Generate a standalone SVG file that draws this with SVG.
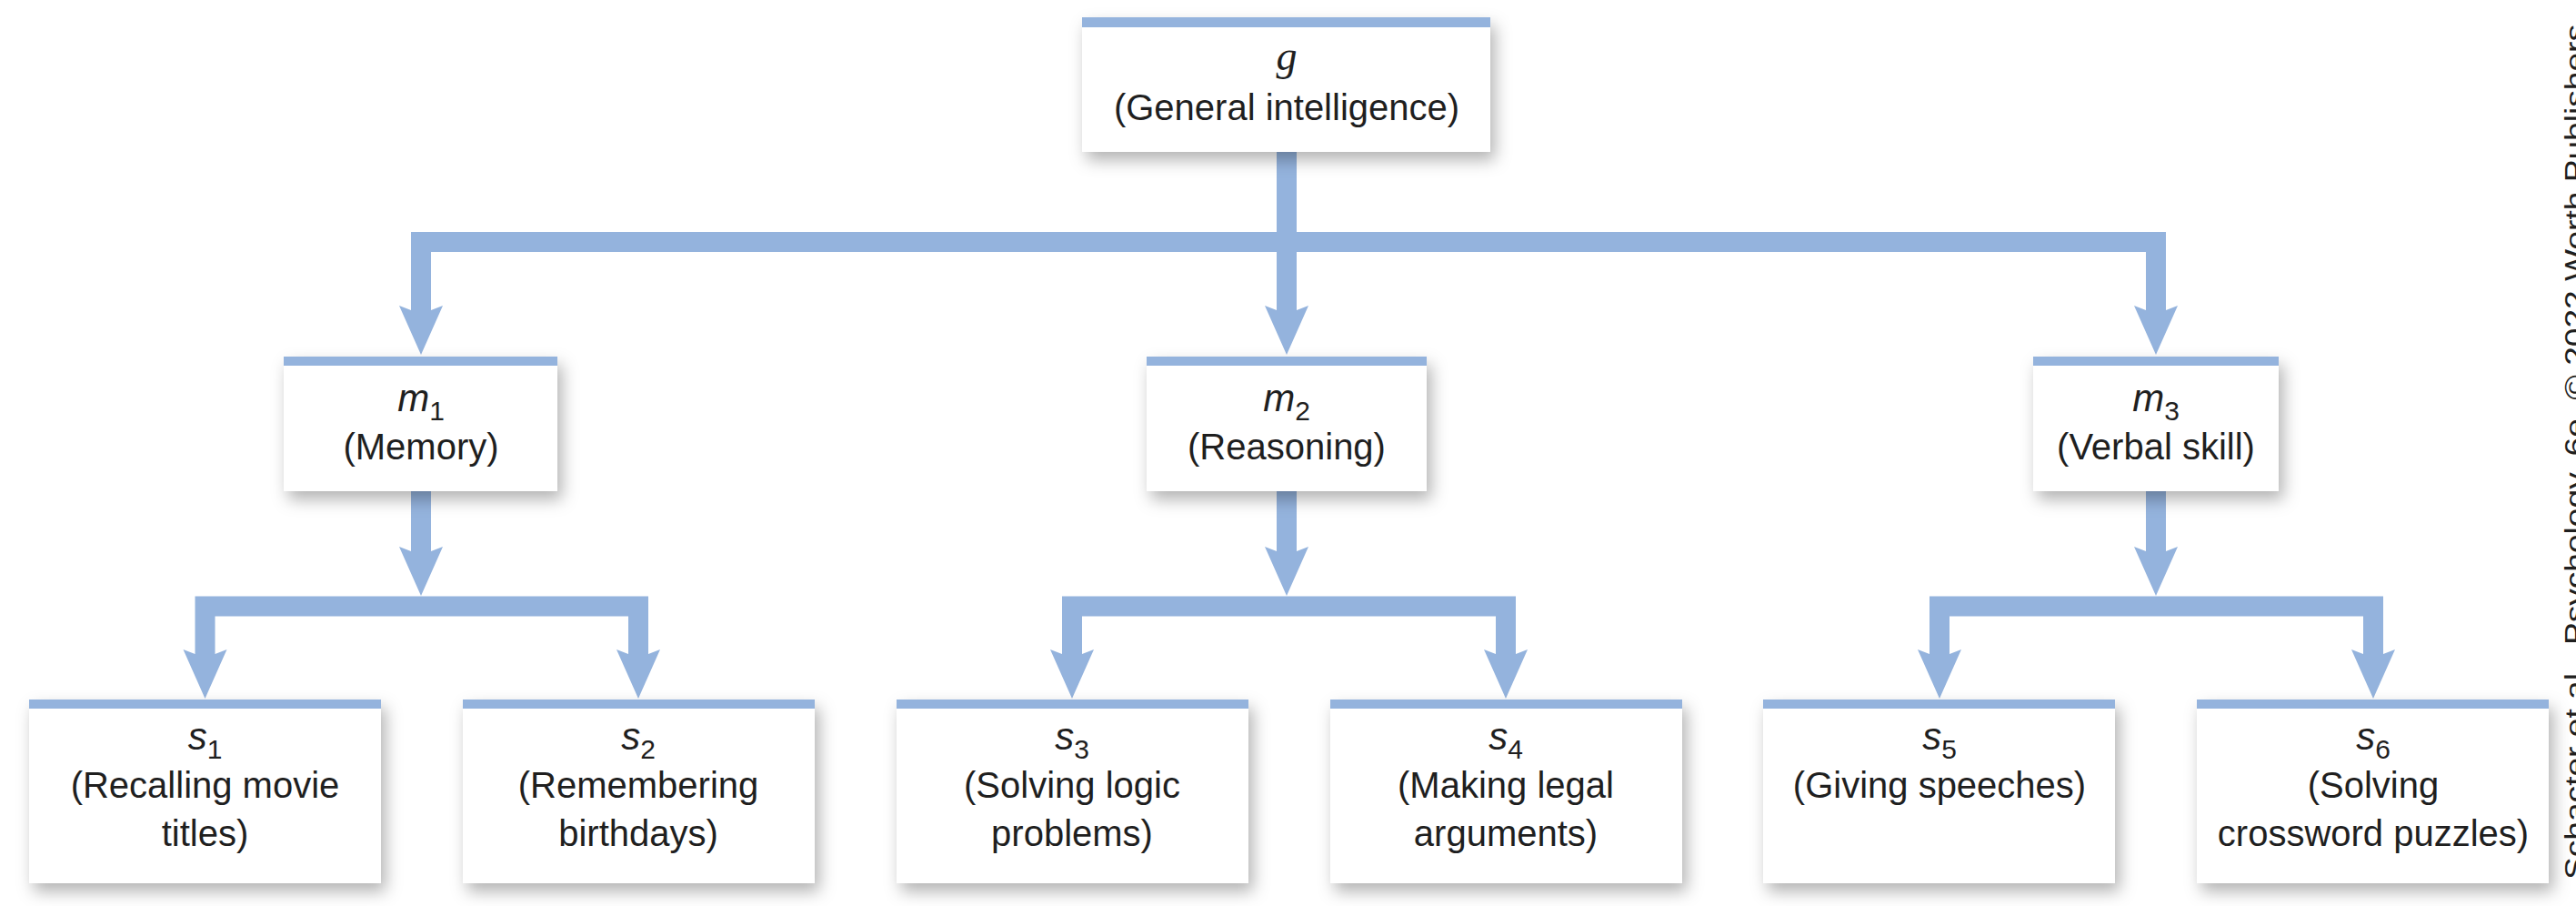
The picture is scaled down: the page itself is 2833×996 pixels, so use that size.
<svg xmlns="http://www.w3.org/2000/svg" xmlns:xlink="http://www.w3.org/1999/xlink" width="2833" height="996" viewBox="0 0 2833 996">
<style>
.box{fill:#ffffff;filter:url(#sh)}
.bar{fill:#94b3dd}
.con{fill:none;stroke:#94b3dd;stroke-width:22;stroke-linejoin:miter}
.arr{fill:#94b3dd}
.t{font-family:"Liberation Sans",Arial,sans-serif;font-size:40px;fill:#1f1f1f;text-anchor:middle}
.v{font-style:italic;font-size:42px}
.sub{font-style:normal;font-size:30px}
.gv{font-family:"Liberation Serif","Times New Roman",serif;font-style:italic;font-size:46px}
.cr{font-family:"Liberation Sans",Arial,sans-serif;font-size:32px;fill:#1f1f1f}
</style>
<defs>
<filter id="sh" x="-10%" y="-10%" width="125%" height="135%">
<feDropShadow dx="5" dy="9" stdDeviation="9" flood-color="#000000" flood-opacity="0.3"/>
</filter>
<path id="ah" d="M-24,-54 L-11,-49 L11,-49 L24,-54 L0,0 Z"/>
</defs>
<rect width="2833" height="996" fill="#ffffff"/>

<g id="connectors">
<path class="con" d="M1415,160 V341"/>
<path class="con" d="M463,341 V266 H2371 V341"/>
<path class="con" d="M463,535 V606"/>
<path class="con" d="M225.5,719 V666.5 H702 V719"/>
<path class="con" d="M1415,535 V606"/>
<path class="con" d="M1179,719 V666.5 H1656 V719"/>
<path class="con" d="M2371,535 V606"/>
<path class="con" d="M2133,719 V666.5 H2610 V719"/>
<use xlink:href="#ah" class="arr" x="463" y="390"/>
<use xlink:href="#ah" class="arr" x="1415" y="390"/>
<use xlink:href="#ah" class="arr" x="2371" y="390"/>
<use xlink:href="#ah" class="arr" x="463" y="655"/>
<use xlink:href="#ah" class="arr" x="1415" y="655"/>
<use xlink:href="#ah" class="arr" x="2371" y="655"/>
<use xlink:href="#ah" class="arr" x="225.5" y="768"/>
<use xlink:href="#ah" class="arr" x="702" y="768"/>
<use xlink:href="#ah" class="arr" x="1179" y="768"/>
<use xlink:href="#ah" class="arr" x="1656" y="768"/>
<use xlink:href="#ah" class="arr" x="2133" y="768"/>
<use xlink:href="#ah" class="arr" x="2610" y="768"/>
</g>

<g id="g">
<rect class="box" x="1190" y="19" width="449" height="148"/>
<rect class="bar" x="1190" y="19" width="449" height="11"/>
<text class="t gv" x="1415" y="77">g</text>
<text class="t" x="1415" y="132">(General intelligence)</text>
</g>

<g id="m1">
<rect class="box" x="312" y="392" width="301" height="148"/>
<rect class="bar" x="312" y="392" width="301" height="10"/>
<text class="t v" x="463" y="452">m<tspan class="sub" dy="10">1</tspan></text>
<text class="t" x="463" y="505">(Memory)</text>
</g>

<g id="m2">
<rect class="box" x="1261" y="392" width="308" height="148"/>
<rect class="bar" x="1261" y="392" width="308" height="10"/>
<text class="t v" x="1415" y="452">m<tspan class="sub" dy="10">2</tspan></text>
<text class="t" x="1415" y="505">(Reasoning)</text>
</g>

<g id="m3">
<rect class="box" x="2236" y="392" width="270" height="148"/>
<rect class="bar" x="2236" y="392" width="270" height="10"/>
<text class="t v" x="2371" y="452">m<tspan class="sub" dy="10">3</tspan></text>
<text class="t" x="2371" y="505">(Verbal skill)</text>
</g>

<g id="s1">
<rect class="box" x="32" y="769" width="387" height="202"/>
<rect class="bar" x="32" y="769" width="387" height="10"/>
<text class="t v" x="225.5" y="824">s<tspan class="sub" dy="10">1</tspan></text>
<text class="t" x="225.5" y="877">(Recalling movie</text>
<text class="t" x="225.5" y="930">titles)</text>
</g>

<g id="s2">
<rect class="box" x="509" y="769" width="387" height="202"/>
<rect class="bar" x="509" y="769" width="387" height="10"/>
<text class="t v" x="702" y="824">s<tspan class="sub" dy="10">2</tspan></text>
<text class="t" x="702" y="877">(Remembering</text>
<text class="t" x="702" y="930">birthdays)</text>
</g>

<g id="s3">
<rect class="box" x="986" y="769" width="387" height="202"/>
<rect class="bar" x="986" y="769" width="387" height="10"/>
<text class="t v" x="1179" y="824">s<tspan class="sub" dy="10">3</tspan></text>
<text class="t" x="1179" y="877">(Solving logic</text>
<text class="t" x="1179" y="930">problems)</text>
</g>

<g id="s4">
<rect class="box" x="1463" y="769" width="387" height="202"/>
<rect class="bar" x="1463" y="769" width="387" height="10"/>
<text class="t v" x="1656" y="824">s<tspan class="sub" dy="10">4</tspan></text>
<text class="t" x="1656" y="877">(Making legal</text>
<text class="t" x="1656" y="930">arguments)</text>
</g>

<g id="s5">
<rect class="box" x="1939" y="769" width="387" height="202"/>
<rect class="bar" x="1939" y="769" width="387" height="10"/>
<text class="t v" x="2133" y="824">s<tspan class="sub" dy="10">5</tspan></text>
<text class="t" x="2133" y="877">(Giving speeches)</text>
</g>

<g id="s6">
<rect class="box" x="2416" y="769" width="387" height="202"/>
<rect class="bar" x="2416" y="769" width="387" height="10"/>
<text class="t v" x="2610" y="824">s<tspan class="sub" dy="10">6</tspan></text>
<text class="t" x="2610" y="877">(Solving</text>
<text class="t" x="2610" y="930">crossword puzzles)</text>
</g>

<text class="cr" transform="translate(2843,967) rotate(-90)" textLength="940" lengthAdjust="spacingAndGlyphs">Schacter et al., Psychology, 6e, © 2022 Worth Publishers</text>
</svg>
